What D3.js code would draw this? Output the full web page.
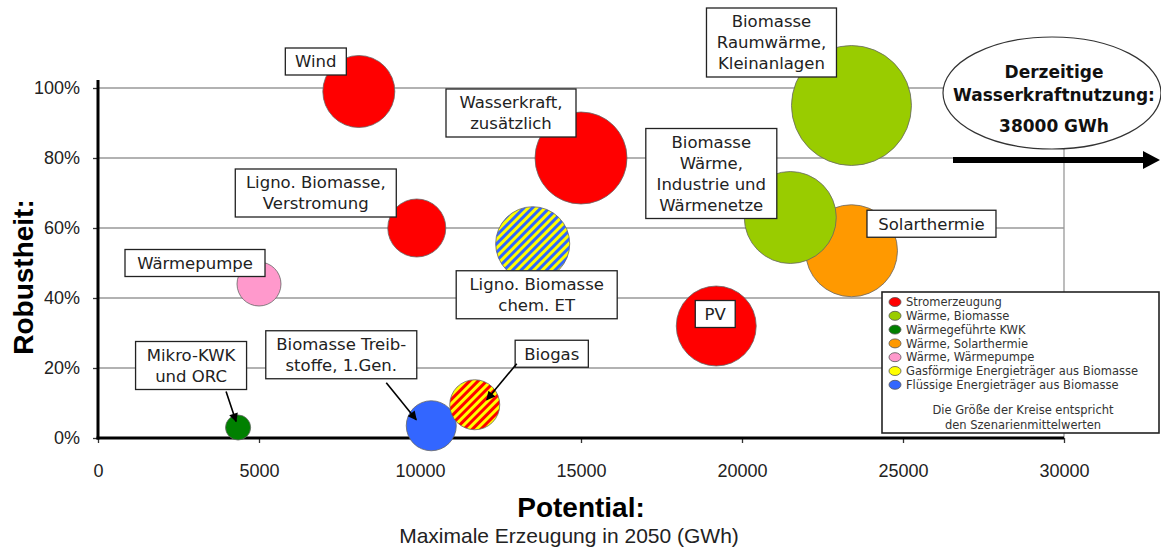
<!DOCTYPE html>
<html lang="de">
<head>
<meta charset="utf-8">
<title>Robustheit vs. Potential</title>
<script src="https://cdn.jsdelivr.net/npm/d3@7"></script>
<style>
  body { margin: 0; background: #fff; }
  .tick text { font-family: "Liberation Sans", Arial, sans-serif; font-size: 18px; fill: #222; }
  .lbl text { font-family: "DejaVu Sans", Verdana, sans-serif; font-size: 16.5px; fill: #222; }
</style>
</head>
<body>
<script>
// data: potential (GWh), robustness, bubble size (scenario mean), colour group
var names = ["Solarthermie", "Wind", "Wasserkraft, zusätzlich", "Biomasse Raumwärme, Kleinanlagen",
             "Biomasse Wärme, Industrie und Wärmenetze", "Ligno. Biomasse, Verstromung",
             "Ligno. Biomasse chem. ET", "Wärmepumpe", "Mikro-KWK und ORC",
             "Biomasse Treibstoffe, 1.Gen.", "Biogas", "PV"];
var potential = [23400, 8100, 15000, 23400, 21500, 9900, 13500, 5000, 4350, 10350, 11700, 19200];
var robust    = [0.535, 0.99, 0.80, 0.95, 0.63, 0.60, 0.555, 0.44, 0.03, 0.035, 0.095, 0.32];
var sizeVal   = [9400, 5760, 9400, 16000, 9400, 3740, 6100, 2150, 700, 2780, 2780, 7100];
var group     = ["solar", "strom", "strom", "bio", "bio", "strom", "gasfluessig", "wp", "kwk", "fluessig", "stromgas", "strom"];

var legendNames = ["Stromerzeugung", "Wärme, Biomasse", "Wärmegeführte KWK", "Wärme, Solarthermie",
                   "Wärme, Wärmepumpe", "Gasförmige Energieträger aus Biomasse", "Flüssige Energieträger aus Biomasse"];
var legendColors = ["#ff0000", "#99cc00", "#008000", "#ff9900", "#ff99cc", "#ffff00", "#3366ff"];

var xTicks = [0, 5000, 10000, 15000, 20000, 25000, 30000];
var yTicks = [0, 0.2, 0.4, 0.6, 0.8, 1.0];

// label text lines and placement (pixel offsets from bubble centre)
var labelLines = [["Solarthermie"], ["Wind"], ["Wasserkraft,", "zusätzlich"], ["Biomasse", "Raumwärme,", "Kleinanlagen"],
                  ["Biomasse", "Wärme,", "Industrie und", "Wärmenetze"], ["Ligno. Biomasse,", "Verstromung"],
                  ["Ligno. Biomasse", "chem. ET"], ["Wärmepumpe"], ["Mikro-KWK", "und ORC"],
                  ["Biomasse Treib-", "stoffe, 1.Gen."], ["Biogas"], ["PV"]];
var labelOff = [[80, -27], [-43, -30], [-70, -45], [-80, -63], [-79, -44], [-101, -35],
                [4, 51], [-64, -21], [-47, -62], [-90, -71], [77, -51], [-1, -12]];
var labelMinW = [129, 61, 130, 130, 131, 161, 161, 140, 111, 151, 71, 36];
// arrows: start offset from label centre, end offset from bubble centre
var arrows = [[8, [35, 26], [-2, -6]], [9, [45, 28], [-15, -6]], [10, [-35, 10], [12, -5]]];

var w = 1161, h = 551;
var svg = d3.select("body").append("svg").attr("width", w).attr("height", h);

var x = d3.scaleLinear().domain([0, 30000]).range([98, 1064]);
var y = d3.scaleLinear().domain([0, 1]).range([438, 88]);
var r = d3.scaleSqrt().domain([0, 16000]).range([0, 60]);

var defs = svg.append("defs");
function stripes(id, c1, c2) {
  var p = defs.append("pattern").attr("id", id).attr("patternUnits", "userSpaceOnUse")
    .attr("width", 6).attr("height", 6).attr("patternTransform", "rotate(45)");
  p.append("rect").attr("width", 6).attr("height", 6).attr("fill", c1);
  p.append("rect").attr("width", 3).attr("height", 6).attr("fill", c2);
}
stripes("gasfluessig", "#ffff00", "#3366ff");
stripes("stromgas", "#ffff00", "#ff0000");
defs.append("marker").attr("id", "ah").attr("viewBox", "0 0 10 10").attr("refX", 9).attr("refY", 5)
  .attr("markerWidth", 11).attr("markerHeight", 9).attr("markerUnits", "userSpaceOnUse").attr("orient", "auto")
  .append("path").attr("d", "M0,0L10,5L0,10z").attr("fill", "#000");

var fills = { strom: "#ff0000", bio: "#99cc00", kwk: "#008000", solar: "#ff9900", wp: "#ff99cc",
              fluessig: "#3366ff", gasfluessig: "url(#gasfluessig)", stromgas: "url(#stromgas)" };

// grid
svg.append("g").selectAll("line").data(yTicks.slice(1)).enter().append("line")
  .attr("x1", x(0)).attr("x2", x(30000)).attr("y1", d => y(d)).attr("y2", d => y(d))
  .attr("stroke", "#999").attr("stroke-width", 1.3);
svg.append("line").attr("x1", x(30000)).attr("x2", x(30000)).attr("y1", y(1)).attr("y2", y(0))
  .attr("stroke", "#999").attr("stroke-width", 1.3);

// axes
var xAxis = d3.axisBottom(x).tickValues(xTicks).tickSize(5).tickPadding(21).tickFormat(d3.format("d"));
var yAxis = d3.axisLeft(y).tickValues(yTicks).tickSize(5).tickPadding(13).tickFormat(d3.format(".0%"));
var gx = svg.append("g").attr("transform", "translate(0," + y(0) + ")").call(xAxis);
var gy = svg.append("g").attr("transform", "translate(" + x(0) + ",0)").call(yAxis);
gx.select(".domain").remove();
gy.select(".domain").remove();
gx.selectAll(".tick line").attr("stroke", "#333").attr("stroke-width", 1.3);
gy.selectAll(".tick line").attr("stroke", "#333").attr("stroke-width", 1.3);
svg.append("line").attr("x1", x(0)).attr("x2", x(0)).attr("y1", 80).attr("y2", y(0) + 1.5)
  .attr("stroke", "#000").attr("stroke-width", 3);
svg.append("line").attr("x1", x(0) - 1.5).attr("x2", x(30000)).attr("y1", y(0)).attr("y2", y(0))
  .attr("stroke", "#000").attr("stroke-width", 3);

// axis titles
svg.append("text").attr("transform", "translate(33,277) rotate(-90)").attr("text-anchor", "middle")
  .style("font-family", "'Liberation Sans', Arial, sans-serif").style("font-weight", "bold").style("font-size", "28px")
  .text("Robustheit:");
svg.append("text").attr("x", 581).attr("y", 517).attr("text-anchor", "middle")
  .style("font-family", "'Liberation Sans', Arial, sans-serif").style("font-weight", "bold").style("font-size", "28px")
  .text("Potential:");
svg.append("text").attr("x", 569).attr("y", 543).attr("text-anchor", "middle")
  .style("font-family", "'Liberation Sans', Arial, sans-serif").style("font-size", "21px").attr("fill", "#222")
  .text("Maximale Erzeugung in 2050 (GWh)");

// bubbles
var idx = d3.range(names.length);
svg.append("g").selectAll("circle").data(idx).enter().append("circle")
  .attr("cx", i => x(potential[i])).attr("cy", i => y(robust[i])).attr("r", i => r(sizeVal[i]))
  .attr("fill", i => fills[group[i]]).attr("stroke", "#666").attr("stroke-width", 0.8);

// labels
var lg = svg.append("g").attr("class", "lbl");
idx.forEach(function(i) {
  var cx = x(potential[i]) + labelOff[i][0], cy = y(robust[i]) + labelOff[i][1];
  var n = labelLines[i].length, lh = 21;
  var g = lg.append("g");
  var rect = g.append("rect").attr("fill", "#fff").attr("stroke", "#222").attr("stroke-width", 1.3);
  var t = g.append("text").attr("text-anchor", "middle");
  labelLines[i].forEach(function(s, k) {
    t.append("tspan").attr("x", cx).attr("y", cy + (k - (n - 1) / 2) * lh).attr("dy", "0.36em").text(s);
  });
  var bw = Math.max(t.node().getBBox().width + 18, labelMinW[i]);
  var bh = n * lh + 6;
  rect.attr("x", cx - bw / 2).attr("y", cy - bh / 2).attr("width", bw).attr("height", bh);
});

// arrows
arrows.forEach(function(a) {
  var i = a[0];
  var sx = x(potential[i]) + labelOff[i][0] + a[1][0], sy = y(robust[i]) + labelOff[i][1] + a[1][1];
  svg.append("line").attr("x1", sx).attr("y1", sy)
    .attr("x2", x(potential[i]) + a[2][0]).attr("y2", y(robust[i]) + a[2][1])
    .attr("stroke", "#000").attr("stroke-width", 1.6).attr("marker-end", "url(#ah)");
});

// current hydropower note
svg.append("ellipse").attr("cx", 1052).attr("cy", 93).attr("rx", 109).attr("ry", 56)
  .attr("fill", "#fff").attr("stroke", "#333").attr("stroke-width", 1.2);
var note = svg.append("text").attr("text-anchor", "middle")
  .style("font-family", "'DejaVu Sans', Verdana, sans-serif").style("font-weight", "bold").style("font-size", "17px").attr("fill", "#111");
[["Derzeitige", 72], ["Wasserkraftnutzung:", 95], ["38000 GWh", 126]].forEach(function(d) {
  note.append("tspan").attr("x", 1054).attr("y", d[1]).attr("dy", "0.36em").text(d[0]);
});
svg.append("line").attr("x1", 953).attr("x2", 1146).attr("y1", 160).attr("y2", 160)
  .attr("stroke", "#000").attr("stroke-width", 6);
svg.append("path").attr("d", "M1143,151L1160,160L1143,169z").attr("fill", "#000");

// legend
var leg = svg.append("g").attr("transform", "translate(882,292)");
leg.append("rect").attr("width", 277).attr("height", 141).attr("fill", "#fff").attr("stroke", "#222").attr("stroke-width", 1.6);
var items = leg.selectAll("g.item").data(legendNames).enter().append("g")
  .attr("transform", (d, k) => "translate(0," + (10 + k * 13.8) + ")");
items.append("ellipse").attr("cx", 13).attr("cy", 0).attr("rx", 6).attr("ry", 4.5)
  .attr("fill", (d, k) => legendColors[k]).attr("stroke", "#555").attr("stroke-width", 0.8);
items.append("text").attr("x", 24).attr("dy", "0.36em")
  .style("font-family", "'DejaVu Sans', Verdana, sans-serif").style("font-size", "11.5px").attr("fill", "#333")
  .text(d => d);
["Die Größe der Kreise entspricht", "den Szenarienmittelwerten"].forEach(function(s, k) {
  leg.append("text").attr("x", 141).attr("y", 118 + k * 14.5).attr("text-anchor", "middle").attr("dy", "0.36em")
    .style("font-family", "'DejaVu Sans', Verdana, sans-serif").style("font-size", "11.5px").attr("fill", "#333").text(s);
});
</script>
</body>
</html>
